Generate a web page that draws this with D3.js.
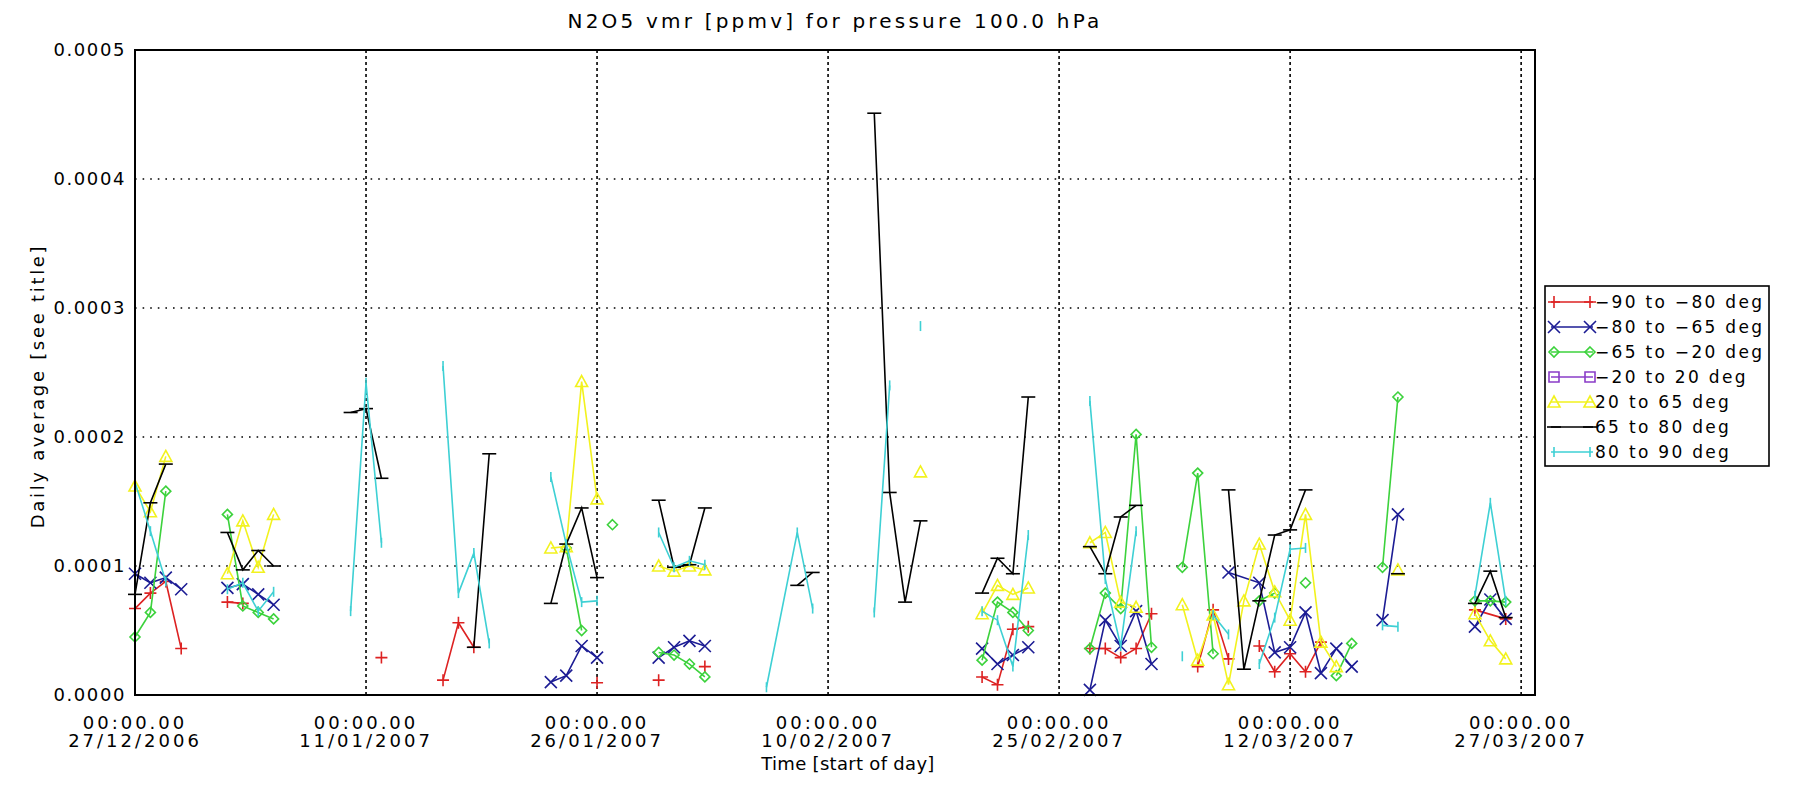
<!DOCTYPE html>
<html>
<head>
  <title>N2O5 vmr daily averages</title>
  <script src="https://d3js.org/d3.v7.min.js"></script>
  <style>
    body { margin: 0; background: #fff; }
    text { font-family: "DejaVu Sans", sans-serif; fill: #000; }
  </style>
</head>
<body>
  <svg width="1794" height="787"></svg>

  <script>
    // Days counted from 27/12/2006, values in units of 1e-4 ppmv, null = break in line
    const startDate = new Date(2006, 11, 27);
    const UNIT = 1e-4;

    const sM90 = [[0,0.67],[1,0.79],[2,0.88],[3,0.36],null,[6,0.72],[7,0.71],null,[16,0.29],null,
      [20,0.115],[21,0.56],[22,0.37],null,[30,0.095],null,[34,0.115],null,[37,0.22],null,
      [55,0.14],[56,0.08],[57,0.51],[58,0.53],null,[62,0.36],[63,0.36],[64,0.29],[65,0.36],[66,0.63],null,
      [69,0.22],[70,0.66],[71,0.28],null,[73,0.38],[74,0.18],[75,0.32],[76,0.18],[77,0.41],null,
      [87,0.66],[89,0.59]];
    const sM80 = [[0,0.94],[1,0.87],[2,0.91],[3,0.82],null,[6,0.83],[7,0.86],[8,0.78],[9,0.70],null,
      [27,0.10],[28,0.15],[29,0.38],[30,0.29],null,[34,0.29],[35,0.37],[36,0.42],[37,0.38],null,
      [55,0.36],[56,0.24],[57,0.31],[58,0.37],null,[62,0.04],[63,0.58],[64,0.38],[65,0.65],[66,0.24],null,
      [71,0.95],[73,0.87],[74,0.33],[75,0.37],[76,0.64],[77,0.17],[78,0.36],[79,0.22],null,
      [81,0.58],[82,1.40],null,[87,0.53],[88,0.74],[89,0.59]];
    const sM65 = [[0,0.45],[1,0.64],[2,1.58],null,[6,1.40],[7,0.69],[8,0.64],[9,0.59],null,
      [28,1.14],[29,0.50],null,[31,1.32],null,[34,0.33],[35,0.31],[36,0.24],[37,0.14],null,
      [55,0.27],[56,0.72],[57,0.64],[58,0.50],null,[62,0.36],[63,0.79],[64,0.67],[65,2.02],[66,0.37],null,
      [68,0.99],[69,1.72],[70,0.32],null,[73,0.73],[74,0.79],null,[76,0.87],null,[78,0.15],[79,0.40],null,
      [81,0.99],[82,2.31],null,[87,0.73],[88,0.73],[89,0.72]];
    const sM20 = [];
    const sP20 = [[0,1.62],[1,1.42],[2,1.85],null,[6,0.94],[7,1.35],[8,0.99],[9,1.40],null,
      [27,1.14],[28,1.15],[29,2.43],[30,1.52],null,[34,1.00],[35,0.96],[36,1.00],[37,0.97],null,
      [51,1.73],null,[55,0.63],[56,0.85],[57,0.78],[58,0.83],null,[62,1.18],[63,1.26],[64,0.72],[65,0.68],null,
      [68,0.70],[69,0.27],[70,0.62],[71,0.08],[72,0.73],[73,1.17],[74,0.80],[75,0.58],[76,1.40],[77,0.41],[78,0.22],null,
      [82,0.97],null,[87,0.63],[88,0.42],[89,0.28]];
    const sP65 = [[0,0.78],[1,1.49],[2,1.79],null,[6,1.26],[7,0.97],[8,1.12],[9,1.00],null,
      [14,2.19],[15,2.22],[16,1.68],null,[22,0.37],[23,1.87],null,[27,0.71],[28,1.17],[29,1.45],[30,0.91],null,
      [34,1.51],[35,0.99],[36,1.01],[37,1.45],null,[43,0.85],[44,0.95],null,[48,4.51],[49,1.57],[50,0.72],[51,1.35],null,
      [55,0.79],[56,1.06],[57,0.94],[58,2.31],null,[62,1.15],[63,0.94],[64,1.38],[65,1.47],null,
      [71,1.59],[72,0.20],[73,0.73],[74,1.24],[75,1.28],[76,1.59],null,[82,0.94],null,[87,0.71],[88,0.96],[89,0.60]];
    const sP80 = [[0,1.65],[1,1.27],[2,0.88],null,[6,0.82],[7,0.87],[8,0.65],[9,0.80],null,
      [14,0.65],[15,2.42],[16,1.18],null,[20,2.55],[21,0.79],[22,1.10],[23,0.40],null,
      [27,1.69],[28,1.17],[29,0.72],[30,0.73],null,[34,1.26],[35,0.99],[36,1.04],[37,1.01],null,
      [41,0.06],[43,1.26],[44,0.67],null,[48,0.64],[49,2.40],null,[51,2.86],null,
      [55,0.65],[56,0.58],[57,0.22],[58,1.24],null,[62,2.28],[63,0.90],[64,0.38],[65,1.27],null,
      [68,0.30],null,[70,0.62],[71,0.47],null,[73,0.24],[74,0.60],[75,1.13],[76,1.14],null,
      [81,0.54],[82,0.53],null,[87,0.77],[88,1.49],[89,0.73]];

    const seriesNames = ["\u221290 to \u221280 deg", "\u221280 to \u221265 deg", "\u221265 to \u221220 deg",
      "\u221220 to 20 deg", "20 to 65 deg", "65 to 80 deg", "80 to 90 deg"];
    const seriesData = [sM90, sM80, sM65, sM20, sP20, sP65, sP80];
    const colors = ["#dd2222", "#1c1c94", "#3cd23c", "#8a3cc8", "#f2f21e", "#000000", "#3ed0d4"];
    const symbols = [
      "M-6,0H6M0,-6V6",
      "M-6,-6L6,6M-6,6L6,-6",
      "M0,-5L5,0L0,5L-5,0Z",
      "M-5,-5H5V5H-5Z",
      "M0,-6L6,5H-6Z",
      "M-7,0H7",
      "M0,-5V5"
    ];

    const tickDays = [0, 15, 30, 45, 60, 75, 90];
    const yTicks = [0, 0.0001, 0.0002, 0.0003, 0.0004, 0.0005];

    const margin = { top: 50, left: 135, right: 1535, bottom: 695 };
    const dayDate = d => new Date(+startDate + d * 864e5);

    const svg = d3.select("svg");

    const x = d3.scaleTime()
      .domain([startDate, dayDate(90.9)])
      .range([margin.left, margin.right]);
    const y = d3.scaleLinear()
      .domain([0, 0.0005])
      .range([margin.bottom, margin.top]);

    // Grid lines
    svg.append("g").selectAll("line")
      .data(yTicks.slice(1, -1))
      .join("line")
      .attr("x1", margin.left).attr("x2", margin.right)
      .attr("y1", d => y(d)).attr("y2", d => y(d))
      .attr("stroke", "#000").attr("stroke-width", 1.6)
      .attr("stroke-dasharray", "1.6,6");
    svg.append("g").selectAll("line")
      .data(tickDays.slice(1))
      .join("line")
      .attr("x1", d => x(dayDate(d))).attr("x2", d => x(dayDate(d)))
      .attr("y1", margin.top).attr("y2", margin.bottom)
      .attr("stroke", "#000").attr("stroke-width", 1.6)
      .attr("stroke-dasharray", "3,3");

    // Series
    const line = d3.line()
      .defined(d => d !== null)
      .x(d => x(dayDate(d[0])))
      .y(d => y(d[1] * UNIT));

    seriesData.forEach((s, i) => {
      const g = svg.append("g");
      g.append("path")
        .datum(s)
        .attr("fill", "none")
        .attr("stroke", colors[i])
        .attr("stroke-width", 1.6)
        .attr("d", line);
      g.selectAll("path.m")
        .data(s.filter(d => d !== null))
        .join("path")
        .attr("class", "m")
        .attr("d", symbols[i])
        .attr("transform", d => `translate(${x(dayDate(d[0]))},${y(d[1] * UNIT)})`)
        .attr("fill", "none")
        .attr("stroke", colors[i])
        .attr("stroke-width", 1.6);
    });

    // Plot frame
    svg.append("rect")
      .attr("x", margin.left).attr("y", margin.top)
      .attr("width", margin.right - margin.left)
      .attr("height", margin.bottom - margin.top)
      .attr("fill", "none").attr("stroke", "#000").attr("stroke-width", 2);

    // Y axis
    svg.append("g")
      .attr("transform", `translate(${margin.left},0)`)
      .call(d3.axisLeft(y).tickValues(yTicks).tickFormat(d3.format(".4f")).tickSize(0).tickPadding(9))
      .call(g => g.select(".domain").remove())
      .selectAll("text")
      .attr("font-family", "DejaVu Sans")
      .attr("font-size", 18)
      .attr("letter-spacing", 1.6);

    // X axis labels (two lines)
    const xl = svg.append("g").selectAll("text")
      .data(tickDays)
      .join("text")
      .attr("text-anchor", "middle")
      .attr("font-size", 18)
      .attr("letter-spacing", 3);
    xl.append("tspan")
      .attr("x", d => x(dayDate(d))).attr("y", 729)
      .text("00:00.00");
    xl.append("tspan")
      .attr("x", d => x(dayDate(d))).attr("y", 747)
      .text(d => d3.timeFormat("%d/%m/%Y")(dayDate(d)));

    // Titles
    svg.append("text")
      .attr("x", (margin.left + margin.right) / 2).attr("y", 28)
      .attr("text-anchor", "middle")
      .attr("font-size", 20).attr("letter-spacing", 3.2)
      .text("N2O5 vmr [ppmv] for pressure 100.0 hPa");
    svg.append("text")
      .attr("x", 848).attr("y", 770)
      .attr("text-anchor", "middle")
      .attr("font-size", 18).attr("letter-spacing", 0.3)
      .text("Time [start of day]");
    svg.append("text")
      .attr("transform", "translate(44,386) rotate(-90)")
      .attr("text-anchor", "middle")
      .attr("font-size", 18).attr("letter-spacing", 2.7)
      .text("Daily average [see title]");

    // Legend
    const lg = svg.append("g").attr("transform", "translate(1545,286)");
    lg.append("rect")
      .attr("width", 224).attr("height", 180)
      .attr("fill", "#fff").attr("stroke", "#000").attr("stroke-width", 1.6);
    seriesNames.forEach((name, i) => {
      const row = lg.append("g").attr("transform", `translate(0,${16 + i * 25})`);
      row.append("line")
        .attr("x1", 6).attr("x2", 48)
        .attr("stroke", colors[i]).attr("stroke-width", 1.6);
      [9, 45].forEach(px => row.append("path")
        .attr("d", symbols[i])
        .attr("transform", `translate(${px},0)`)
        .attr("fill", "none").attr("stroke", colors[i]).attr("stroke-width", 1.6));
      row.append("text")
        .attr("x", 50).attr("y", 6)
        .attr("font-size", 17).attr("letter-spacing", 2.3)
        .text(name);
    });
  </script>
</body>
</html>
